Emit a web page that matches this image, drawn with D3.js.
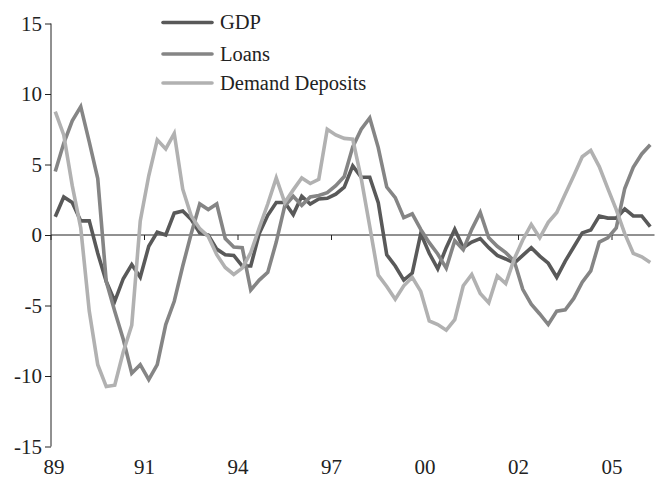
<!DOCTYPE html>
<html>
<head>
<meta charset="utf-8">
<style>
  * { margin:0; padding:0 }
  body { background:#fff; overflow:hidden; }
  svg text { font-family: "Liberation Serif", "DejaVu Serif", serif; fill:#222; }
</style>
<script src="https://cdn.jsdelivr.net/npm/d3@7"></script>
</head>
<body>
<script>
// quarterly, 1989Q1 .. 2006Q3
var quarters = d3.range(71).map(function(i) {
  return (1989 + Math.floor(i / 4)) + "Q" + (i % 4 + 1);
});

var gdp = [1.3, 2.7, 2.3, 1.0, 1.0, -1.3, -3.3, -4.7, -3.1, -2.1, -3.0, -0.8, 0.2, 0.0, 1.55, 1.7, 1.1, 0.15,
  0.0, -1.0, -1.4, -1.45, -2.2, -2.2, 0.1, 1.4, 2.3, 2.3, 1.45, 2.75, 2.2, 2.55, 2.6, 2.9, 3.4, 4.9, 4.1, 4.1,
  2.3, -1.4, -2.2, -3.2, -2.7, 0.1, -1.3, -2.4, -0.9, 0.4, -0.9, -0.5, -0.25, -0.9, -1.45, -1.7, -2.0, -1.45,
  -0.9, -1.5, -2.0, -3.0, -1.85, -0.85, 0.15, 0.35, 1.35, 1.2, 1.2, 1.85, 1.35, 1.35, 0.6];

var loans = [4.5, 6.5, 8.1, 9.1, 6.6, 4.0, -3.3, -5.4, -7.4, -9.8, -9.2, -10.25, -9.2, -6.35, -4.7, -2.2, 0.1,
  2.2, 1.8, 2.2, -0.25, -0.85, -0.9, -3.9, -3.2, -2.65, -0.5, 2.06, 2.75, 2.1, 2.7, 2.8, 3.0, 3.5, 4.15, 6.25,
  7.5, 8.3, 6.2, 3.4, 2.65, 1.23, 1.5, 0.4, -0.54, -1.35, -2.35, -0.4, -1.05, 0.4, 1.6, -0.2, -0.8, -1.25,
  -1.85, -3.85, -4.9, -5.6, -6.35, -5.4, -5.3, -4.5, -3.35, -2.55, -0.5, -0.2, 0.5, 3.3, 4.8, 5.75, 6.4];

var deposits = [8.75, 7.1, 3.5, 0.5, -5.4, -9.2, -10.75, -10.65, -8.3, -6.4, 1.0, 4.2, 6.75, 6.1, 7.2, 3.25,
  1.35, 0.45, -0.1, -1.4, -2.3, -2.8, -2.35, -1.25, 0.5, 2.2, 4.05, 2.3, 3.2, 4.05, 3.65, 3.95, 7.5, 7.1, 6.85,
  6.8, 4.0, 0.6, -2.85, -3.65, -4.55, -3.6, -3.0, -4.0, -6.1, -6.35, -6.75, -6.0, -3.6, -2.8, -4.15, -4.8,
  -2.9, -3.45, -1.7, -0.35, 0.75, -0.2, 0.9, 1.6, 2.9, 4.2, 5.55, 6.0, 4.85, 3.3, 1.8, 0.1, -1.3, -1.55, -1.95];

var seriesNames = ["GDP", "Loans", "Demand Deposits"];
var seriesColors = ["#595959", "#858585", "#b1b1b1"];
var yTicks = [-15, -10, -5, 0, 5, 10, 15];
var xTickLabels = ["89", "91", "94", "97", "00", "02", "05"];
var labelEvery = 11;

var width = 657, height = 481;

var svg = d3.select("body").append("svg")
  .attr("width", width)
  .attr("height", height);

var x = d3.scaleBand()
  .domain(d3.range(quarters.length))
  .range([51, 654.5])
  .paddingInner(0).paddingOuter(0);

var y = d3.scaleLinear()
  .domain([-15, 15])
  .range([446.5, 23.5]);

// y axis
var yAxis = svg.append("g")
  .attr("transform", "translate(51,0)")
  .call(d3.axisLeft(y).tickValues(yTicks).tickSize(6).tickPadding(3)
    .tickFormat(function(d) { return d; }));
yAxis.select(".domain").attr("stroke", "#222").attr("d", "M0," + y(-15) + "V" + y(15));
yAxis.selectAll(".tick line").attr("stroke", "#222");
yAxis.selectAll(".tick text").attr("font-size", 21).attr("fill", "#222")
  .style("font-family", "Liberation Serif");

// x axis on the zero line
var tickIdx = d3.range(0, quarters.length, labelEvery);
svg.append("line")
  .attr("x1", 51).attr("x2", 654.5)
  .attr("y1", y(0)).attr("y2", y(0))
  .attr("stroke", "#222");
svg.selectAll(".xtick").data(tickIdx).enter().append("line")
  .attr("class", "xtick")
  .attr("x1", function(d) { return x(d); }).attr("x2", function(d) { return x(d); })
  .attr("y1", y(0)).attr("y2", y(0) + 5)
  .attr("stroke", "#222");
svg.selectAll(".xlab").data(tickIdx).enter().append("text")
  .attr("class", "xlab")
  .attr("x", function(d, i) { return i === 0 ? x(d) + 3 : x(d); })
  .attr("y", 474)
  .attr("text-anchor", "middle")
  .attr("font-size", 21)
  .text(function(d, i) { return xTickLabels[i]; });

// lines
var line = d3.line()
  .x(function(d, i) { return x(i) + x.bandwidth() / 2; })
  .y(function(d) { return y(d); });

[gdp, loans, deposits].forEach(function(s, k) {
  svg.append("path")
    .datum(s)
    .attr("d", line)
    .attr("fill", "none")
    .attr("stroke", seriesColors[k])
    .attr("stroke-width", 3.6)
    .attr("stroke-linejoin", "miter");
});

// legend
var legendY = [22.5, 54, 83];
var legend = svg.selectAll(".leg").data(seriesNames).enter().append("g")
  .attr("class", "leg")
  .attr("transform", function(d, i) { return "translate(163," + legendY[i] + ")"; });
legend.append("line")
  .attr("x1", 0).attr("x2", 49)
  .attr("stroke", function(d, i) { return seriesColors[i]; })
  .attr("stroke-width", 3.6)
  .attr("stroke-linecap", "round");
legend.append("text")
  .attr("x", 57)
  .attr("dy", "0.33em")
  .attr("font-size", 20.5)
  .text(function(d) { return d; });
</script>
</body>
</html>
